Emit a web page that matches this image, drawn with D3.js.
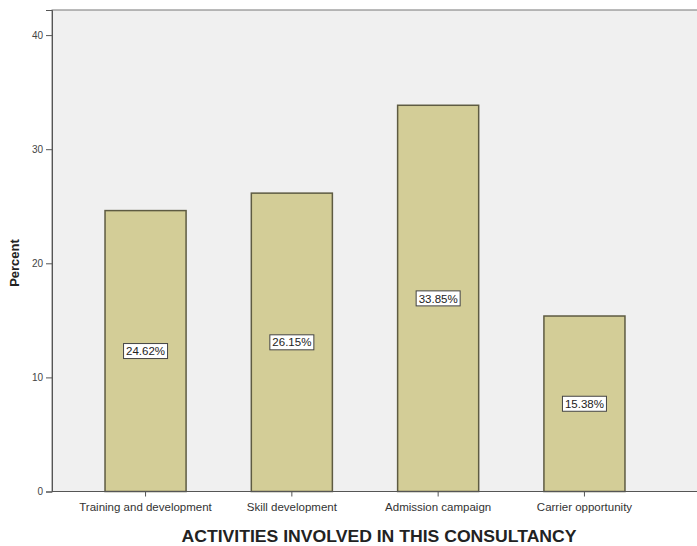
<!DOCTYPE html>
<html>
<head>
<meta charset="utf-8">
<script src="https://cdn.jsdelivr.net/npm/d3@7"></script>
<style>
  body { margin: 0; background: #fff; }
  svg { font-family: "Liberation Sans", Arial, sans-serif; }
</style>
</head>
<body>
<div id="chart"></div>
<script>
// data
const categories = ["Training and development", "Skill development", "Admission campaign", "Carrier opportunity"];
const percents = [24.62, 26.15, 33.85, 15.38];
const yTicks = [0, 10, 20, 30, 40];

const width = 697, height = 546;

const svg = d3.select("#chart")
  .append("svg")
  .attr("width", width)
  .attr("height", height);

// plot frame
const plotLeft = 52, plotTop = 10, plotBottom = 491.5, plotRight = 697;

const y = d3.scaleLinear()
  .domain([0, 42.2])
  .range([plotBottom, plotTop]);

const x = d3.scaleBand()
  .domain(categories)
  .range([72.4, 657.6])
  .paddingInner(0.446)
  .paddingOuter(0.223);

svg.append("rect")
  .attr("x", plotLeft)
  .attr("y", plotTop)
  .attr("width", plotRight - plotLeft + 5)
  .attr("height", plotBottom - plotTop)
  .attr("fill", "#f0f0f0")
  .attr("stroke", "#777")
  .attr("stroke-width", 1);

// bars
svg.selectAll(".bar")
  .data(percents)
  .enter()
  .append("rect")
  .attr("class", "bar")
  .attr("x", (d, i) => x(categories[i]))
  .attr("y", d => y(d))
  .attr("width", x.bandwidth())
  .attr("height", d => y(0) - y(d))
  .attr("fill", "#d3cd97")
  .attr("stroke", "#5e5b42")
  .attr("stroke-width", 1.5);

// value labels in boxes
const labels = svg.selectAll(".lbl")
  .data(percents)
  .enter()
  .append("g")
  .attr("class", "lbl")
  .attr("transform", (d, i) => `translate(${x(categories[i]) + x.bandwidth() / 2},${(y(d) + y(0)) / 2})`);

labels.append("rect")
  .attr("x", -22)
  .attr("y", -7.5)
  .attr("width", 44)
  .attr("height", 15)
  .attr("fill", "#fff")
  .attr("stroke", "#444")
  .attr("stroke-width", 1);

labels.append("text")
  .attr("text-anchor", "middle")
  .attr("dy", "0.36em")
  .attr("font-size", 11.5)
  .attr("fill", "#222")
  .text(d => d.toFixed(2) + "%");

// y axis
const yAxis = d3.axisLeft(y)
  .tickValues(yTicks)
  .tickSize(6)
  .tickPadding(3);

const gy = svg.append("g")
  .attr("transform", `translate(${plotLeft},0)`)
  .call(yAxis);
gy.select(".domain").attr("stroke", "#555");
gy.selectAll(".tick line").attr("stroke", "#555");
gy.selectAll(".tick text").attr("font-size", 10).attr("fill", "#444");

// x axis
const xAxis = d3.axisBottom(x)
  .tickSize(5)
  .tickPadding(6);

const gx = svg.append("g")
  .attr("transform", `translate(0,${plotBottom})`)
  .call(xAxis);
gx.select(".domain").remove();
gx.selectAll(".tick line").attr("stroke", "#555");
gx.selectAll(".tick text").attr("font-size", 11.5).attr("fill", "#333");

svg.append("line")
  .attr("x1", plotLeft)
  .attr("x2", width)
  .attr("y1", plotBottom)
  .attr("y2", plotBottom)
  .attr("stroke", "#555");

// axis titles
svg.append("text")
  .attr("transform", `translate(19,263) rotate(-90)`)
  .attr("text-anchor", "middle")
  .attr("font-size", 13)
  .attr("font-weight", "bold")
  .attr("fill", "#222")
  .text("Percent");

svg.append("text")
  .attr("x", 379)
  .attr("y", 542)
  .attr("text-anchor", "middle")
  .attr("font-size", 16)
  .attr("font-weight", "bold")
  .attr("fill", "#222")
  .attr("textLength", 395)
  .attr("lengthAdjust", "spacingAndGlyphs")
  .text("ACTIVITIES INVOLVED IN THIS CONSULTANCY");
</script>
</body>
</html>
